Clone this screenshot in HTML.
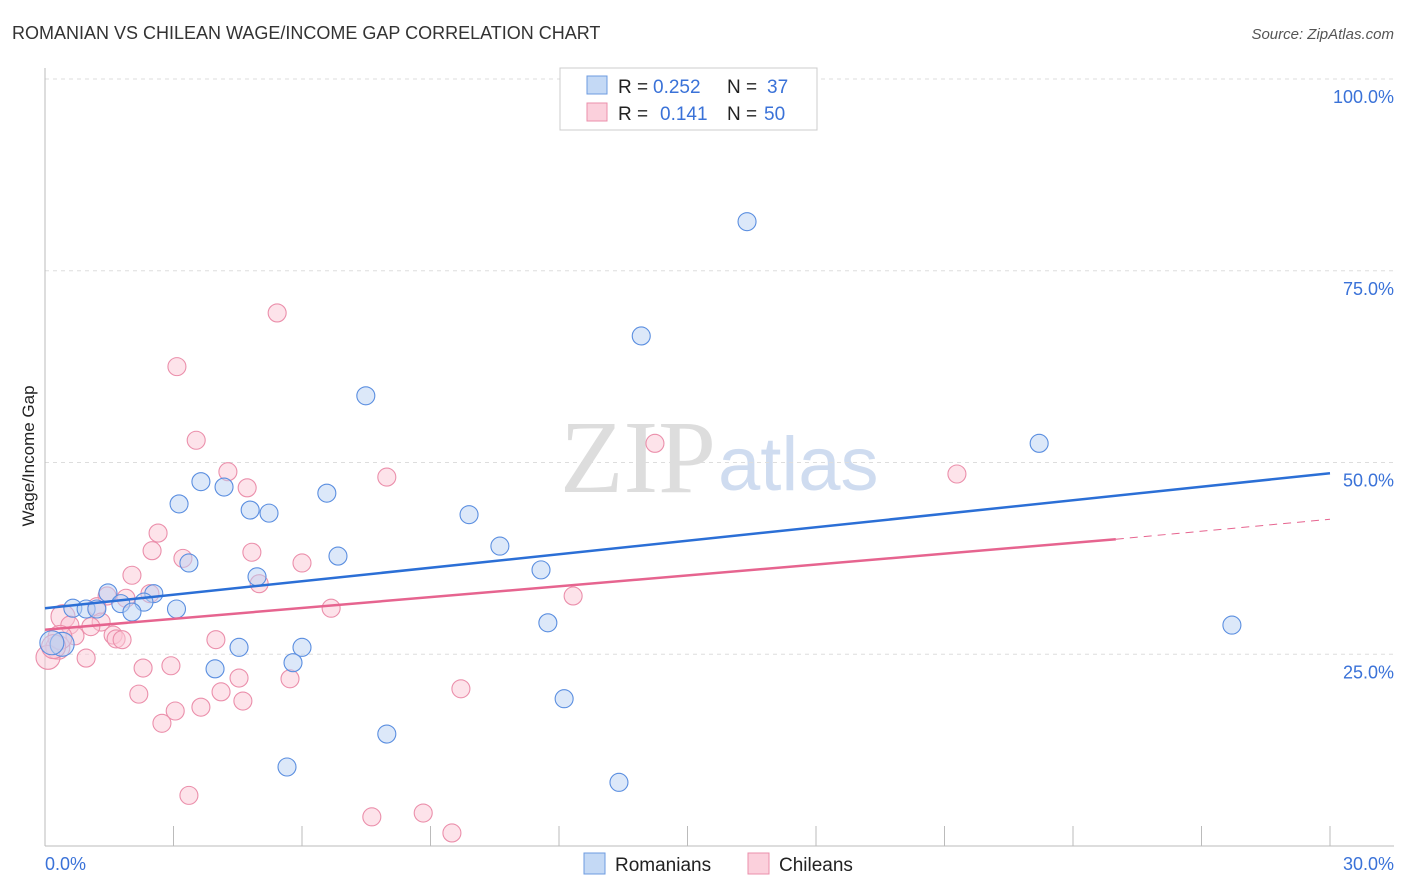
<!DOCTYPE html>
<html><head><meta charset="utf-8"><style>
body{margin:0;background:#fff;font-family:"Liberation Sans",sans-serif}
svg{display:block}
</style></head><body>
<svg id="c" width="1406" height="892">
<text x="12" y="39" font-size="18" fill="#333">ROMANIAN VS CHILEAN WAGE/INCOME GAP CORRELATION CHART</text>
<text x="1394" y="39" font-size="15" fill="#555" text-anchor="end" font-style="italic">Source: ZipAtlas.com</text>
<text x="716" y="492" font-size="104" fill="#ddd" text-anchor="end" font-family="Liberation Serif">ZIP</text>
<text x="718" y="490" font-size="76" fill="#cfdcf0">atlas</text>
<g id="grid"></g><g id="axes"></g><g id="pts"></g><g id="lines"></g>
<text transform="translate(34,456) rotate(-90)" font-size="17" fill="#222" text-anchor="middle">Wage/Income Gap</text>
<text x="45" y="870" font-size="18" fill="#3a72d8">0.0%</text>
<text x="1394" y="870" font-size="18" fill="#3a72d8" text-anchor="end">30.0%</text>
<g>
<rect x="560" y="68" width="257" height="62" fill="#fff" stroke="#ccc"/>
<rect x="587" y="76" width="20" height="18" fill="#c4d9f5" stroke="#6d9be0"/>
<rect x="587" y="103" width="20" height="18" fill="#fbd0dc" stroke="#eb8fab"/>
<text y="93" font-size="19" fill="#222"><tspan x="618">R =</tspan><tspan x="653" fill="#3a72d8">0.252</tspan><tspan x="727">N =</tspan><tspan x="767" fill="#3a72d8">37</tspan></text>
<text y="120" font-size="19" fill="#222"><tspan x="618">R =</tspan><tspan x="660" fill="#3a72d8">0.141</tspan><tspan x="727">N =</tspan><tspan x="764" fill="#3a72d8">50</tspan></text>
</g>
<g>
<rect x="584" y="853" width="21" height="21" fill="#c4d9f5" stroke="#6d9be0"/>
<text x="615" y="871" font-size="19" fill="#222">Romanians</text>
<rect x="748" y="853" width="21" height="21" fill="#fbd0dc" stroke="#eb8fab"/>
<text x="779" y="871" font-size="19" fill="#222">Chileans</text>
</g>
</svg>
<script>
const yTicks=[25,50,75,100];
const yTickLabels=["25.0%","50.0%","75.0%","100.0%"];
const romX=[16.39,13.92,7.49,23.21,6.58,3.64,4.18,3.13,4.79,5.23,9.90,10.62,6.84,3.36,11.58,4.95,1.47,2.54,2.31,1.77,3.07,2.03,0.65,0.96,1.21,11.74,27.71,4.53,6.00,0.40,0.16,5.79,3.97,12.12,7.98,5.65,13.40];
const romY=[81.4,66.5,58.7,52.5,46.0,47.5,46.8,44.6,43.8,43.4,43.2,39.1,37.8,36.9,36.0,35.1,33.0,32.9,31.8,31.6,30.9,30.5,31.0,30.9,30.9,29.1,28.8,25.9,25.9,26.3,26.5,23.9,23.1,19.2,14.6,10.3,8.3];
const chiX=[5.42,3.08,14.24,3.53,21.29,4.27,7.98,4.72,2.64,2.50,4.83,3.22,6.00,2.03,5.00,2.45,1.45,1.89,12.33,1.21,6.68,0.42,0.58,1.31,1.07,0.70,1.59,1.66,1.80,3.99,0.30,0.07,0.96,2.29,2.94,5.72,4.53,9.71,4.11,2.19,4.62,3.64,3.04,2.73,3.36,7.63,8.83,9.50,0.35,0.20];
const chiY=[69.5,62.5,52.5,52.9,48.5,48.8,48.1,46.7,40.8,38.5,38.3,37.5,36.9,35.3,34.2,32.9,32.6,32.3,32.6,31.2,31.0,29.9,28.8,29.2,28.6,27.4,27.5,27.0,26.9,26.9,25.9,24.6,24.5,23.2,23.5,21.8,21.9,20.5,20.1,19.8,18.9,18.1,17.6,16.0,6.6,3.8,4.3,1.7,27.2,26.0];
const romTrend=[[0,31.0],[30,48.6]];
const chiTrend=[[0,28.2],[25,40.0]];
const chiTrendExt=[[25,40.0],[30,42.6]];
const NS="http://www.w3.org/2000/svg";
const sx=v=>45+v/30*1285, sy=v=>846-v/100*767;
function mk(tag,attrs,parent){const e=document.createElementNS(NS,tag);for(const k in attrs)e.setAttribute(k,attrs[k]);parent.appendChild(e);return e;}
const grid=document.getElementById('grid'),axes=document.getElementById('axes'),pts=document.getElementById('pts'),lines=document.getElementById('lines');
yTicks.forEach((t,i)=>{
 const l=mk('line',{x1:45,x2:1394,y1:sy(t),y2:sy(t),stroke:'#ddd','stroke-dasharray':'4,4'},grid);
 
 
 const tx=mk('text',{x:1394,y:sy(t)+24,'font-size':18,fill:'#3a72d8','text-anchor':'end'},grid);
 tx.textContent=yTickLabels[i];
 
 
});
const ya=mk('line',{x1:45,x2:45,y1:68,y2:846,stroke:'#bbb'},axes);


const xa=mk('line',{x1:45,x2:1394,y1:846,y2:846,stroke:'#bbb'},axes);


for(let i=1;i<=10;i++){const t=mk('line',{x1:sx(i*3),x2:sx(i*3),y1:826,y2:846,stroke:'#bbb'},axes);
 
 }
function dots(X,Y,fill,stroke,name){X.forEach((x,i)=>{const c=mk('circle',{cx:sx(x),cy:sy(Y[i]),r:(x<0.5?12:9),fill:fill,'fill-opacity':0.5,stroke:stroke,'stroke-width':1.1},pts);
 
 });}
dots(chiX,chiY,'#fbc8d6','#eb8fab','chilean-point');
dots(romX,romY,'#b9d2f3','#5a8ee0','romanian-point');
function tl(p,col,name,dash){const l=mk('line',{x1:sx(p[0][0]),y1:sy(p[0][1]),x2:sx(p[1][0]),y2:sy(p[1][1]),stroke:col,'stroke-width':dash?1:2.5},lines);
 if(dash)l.setAttribute('stroke-dasharray','8,6');
 
 }
tl(romTrend,'#2b6fd6','romanian-trendline');
tl(chiTrend,'#e6648f','chilean-trendline');
tl(chiTrendExt,'#e6648f','chilean-trendline-extension',true);
</script>
</body></html>
